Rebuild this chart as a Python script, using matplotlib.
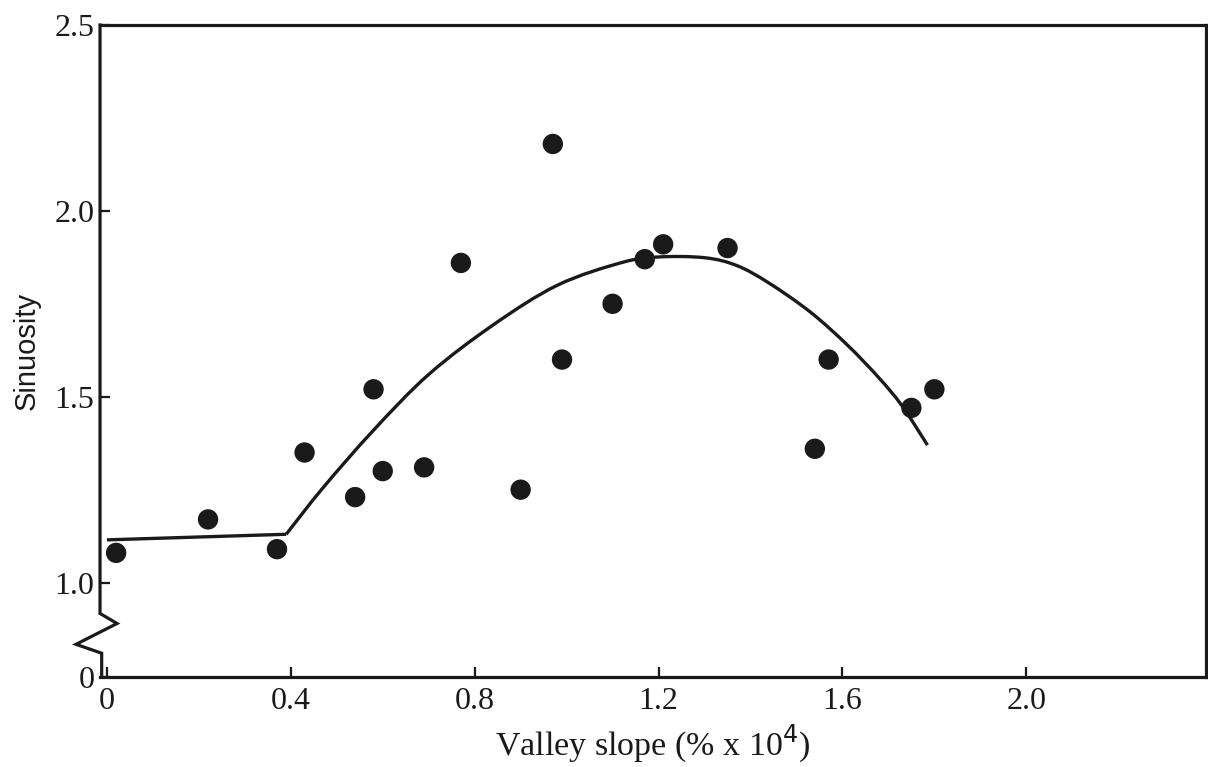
#!/usr/bin/env python3
"""Sinuosity vs valley slope: scatter with hand-drawn trend line and broken y axis."""
import matplotlib
matplotlib.use("Agg")
import matplotlib.pyplot as plt
import matplotlib.transforms as mtransforms
from matplotlib.path import Path
from matplotlib.patches import PathPatch
import numpy as np

# observed channel reaches
slope = [0.02, 0.22, 0.37, 0.43, 0.54, 0.58, 0.60, 0.69, 0.77, 0.90,
         0.97, 0.99, 1.10, 1.17, 1.21, 1.35, 1.54, 1.57, 1.75, 1.80]
sinuosity = [1.08, 1.17, 1.09, 1.35, 1.23, 1.52, 1.30, 1.31, 1.86, 1.25,
             2.18, 1.60, 1.75, 1.87, 1.91, 1.90, 1.36, 1.60, 1.47, 1.52]

# trend line: straight part, then a smooth arch
flat_x = [0.0, 0.39]
flat_y = [1.115, 1.13]
arch_x = [0.39, 0.47, 0.58, 0.70, 0.84, 0.98, 1.12, 1.20, 1.30,
          1.37, 1.44, 1.53, 1.61, 1.68, 1.73, 1.785]
arch_y = [1.13, 1.255, 1.41, 1.56, 1.693, 1.80, 1.861, 1.876, 1.874,
          1.853, 1.806, 1.728, 1.64, 1.55, 1.475, 1.37]

xticks = [0, 0.4, 0.8, 1.2, 1.6, 2.0]
xticklabels = ["0", "0.4", "0.8", "1.2", "1.6", "2.0"]
y_bottom = 0.746  # where the "0" of the broken axis sits
yticks = [y_bottom, 1.0, 1.5, 2.0, 2.5]
yticklabels = ["0", "1.0", "1.5", "2.0", "2.5"]

# zig-zag break on the left spine (x in axes fraction, y in data)
break_x = [0.0, 0.0, 0.0154, -0.0217, 0.0015, 0.0015]
break_y = [2.5, 0.917, 0.890, 0.834, 0.810, y_bottom]

ink = "#1a1a1a"
serif = "Liberation Serif"


def smooth_path(xs, ys):
    # Catmull-Rom through the knots, expressed as cubic Bezier segments
    p = np.column_stack([xs, ys])
    verts, codes = [p[0]], [Path.MOVETO]
    for i in range(len(p) - 1):
        p0 = p[i - 1] if i > 0 else p[i]
        p3 = p[i + 2] if i + 2 < len(p) else p[i + 1]
        c1 = p[i] + (p[i + 1] - p0) / 6
        c2 = p[i + 1] - (p3 - p[i]) / 6
        verts += [c1, c2, p[i + 1]]
        codes += [Path.CURVE4] * 3
    return Path(verts, codes)


fig = plt.figure(figsize=(12.08, 7.67), dpi=100)
ax = fig.add_axes([0.0828, 0.1173, 0.9152, 0.8501])

ax.plot(flat_x, flat_y, color=ink, lw=2.4, solid_capstyle="butt", zorder=2)
ax.add_patch(PathPatch(smooth_path(arch_x, arch_y), fill=False, edgecolor=ink,
                       lw=2.4, capstyle="butt", zorder=2))
ax.scatter(slope, sinuosity, s=215, color=ink, edgecolor="none", zorder=3)

ax.set_xlim(-0.015, 2.39)
ax.set_ylim(y_bottom, 2.5)

for side in ["top", "right", "bottom"]:
    ax.spines[side].set_linewidth(2.3)
    ax.spines[side].set_color(ink)
ax.spines["left"].set_visible(False)

trans = mtransforms.blended_transform_factory(ax.transAxes, ax.transData)
ax.plot(break_x, break_y, transform=trans, color=ink, lw=2.3,
        clip_on=False, solid_joinstyle="miter", zorder=4)

ax.set_xticks(xticks)
ax.set_xticklabels(xticklabels, fontfamily=serif, fontsize=23)
ax.set_yticks(yticks)
ax.set_yticklabels(yticklabels, fontfamily=serif, fontsize=23)
ax.tick_params(axis="x", direction="in", length=7, width=1.6, pad=7, colors=ink)
ax.tick_params(axis="y", direction="in", length=7, width=1.6, pad=4, colors=ink)

ax.set_xlabel("Valley slope (% x 10$^{4}$)", fontfamily=serif, fontsize=24.5,
              labelpad=5, color=ink)
ax.set_ylabel("Sinuosity", fontfamily="Liberation Sans", fontsize=21,
              labelpad=10, color=ink)

plt.savefig("out.png", dpi=100)
plt.close()
